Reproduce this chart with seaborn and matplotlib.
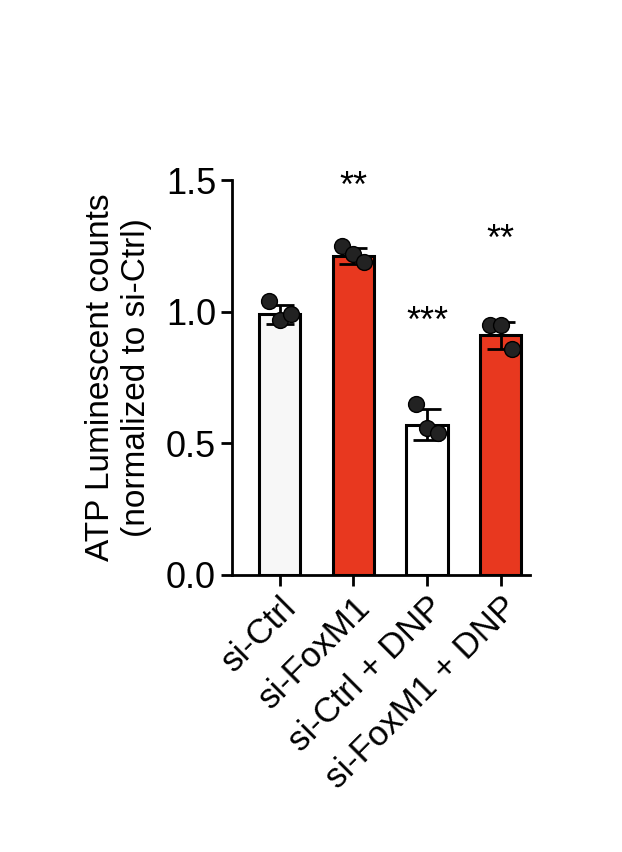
import matplotlib
matplotlib.use("Agg")
import matplotlib.pyplot as plt
import seaborn as sns
import pandas as pd
import numpy as np

groups = ["si-Ctrl", "si-FoxM1", "si-Ctrl + DNP", "si-FoxM1 + DNP"]
means = [0.99, 1.21, 0.57, 0.91]
points = [[1.04, 0.97, 0.99], [1.25, 1.22, 1.19], [0.65, 0.56, 0.54], [0.95, 0.95, 0.86]]
stars = ["", "**", "***", "**"]
star_y = [0, 1.47, 0.96, 1.27]
colors = ["#f7f7f7", "#e8381f", "#ffffff", "#e8381f"]

sns.set_style("ticks")
plt.rcParams['font.family'] = ['Liberation Sans', 'DejaVu Sans']
plt.rcParams['text.color'] = 'black'
plt.rcParams['axes.labelcolor'] = 'black'
plt.rcParams['xtick.color'] = 'black'
plt.rcParams['ytick.color'] = 'black'
fig = plt.figure(figsize=(6.22, 8.52), dpi=100)
ax = fig.add_axes([232/622, 1-575/852, 298/622, (575-180)/852])

df = pd.DataFrame({"g": groups, "v": means})
sns.barplot(data=df, x="g", y="v", hue="g", palette=colors, legend=False, saturation=1,
            width=0.56, edgecolor="black", linewidth=2.2, ax=ax, errorbar=None)
offs = [-0.15, 0.0, 0.15]
for i, vs in enumerate(points):
    sd = np.std(vs, ddof=1)
    ax.errorbar(i, means[i], yerr=sd, color="black", capsize=10, elinewidth=2, capthick=2, zorder=4)
    ax.scatter([i + o for o in offs], vs, s=130, color="#222222", edgecolor="black", zorder=5)
    if stars[i]:
        ax.text(i, star_y[i], stars[i], ha="center", va="center", fontsize=26)

ax.set_ylim(0, 1.5)
ax.set_xlim(-0.65, 3.4)
ax.set_yticks([0, 0.5, 1.0, 1.5])
ax.set_yticklabels(["0.0", "0.5", "1.0", "1.5"], fontsize=26)
ax.set_xticks(range(4))
ax.set_xticklabels(groups, rotation=45, ha="right", rotation_mode="anchor", fontsize=25)
ax.set_xlabel("")
ax.set_ylabel("ATP Luminescent counts\n(normalized to si-Ctrl)", fontsize=24, labelpad=10)
ax.tick_params(width=2, length=8)
for s in ["left", "bottom"]:
    ax.spines[s].set_linewidth(2)
    ax.spines[s].set_color("black")
sns.despine(ax=ax)
fig.savefig("out.png", dpi=100)
